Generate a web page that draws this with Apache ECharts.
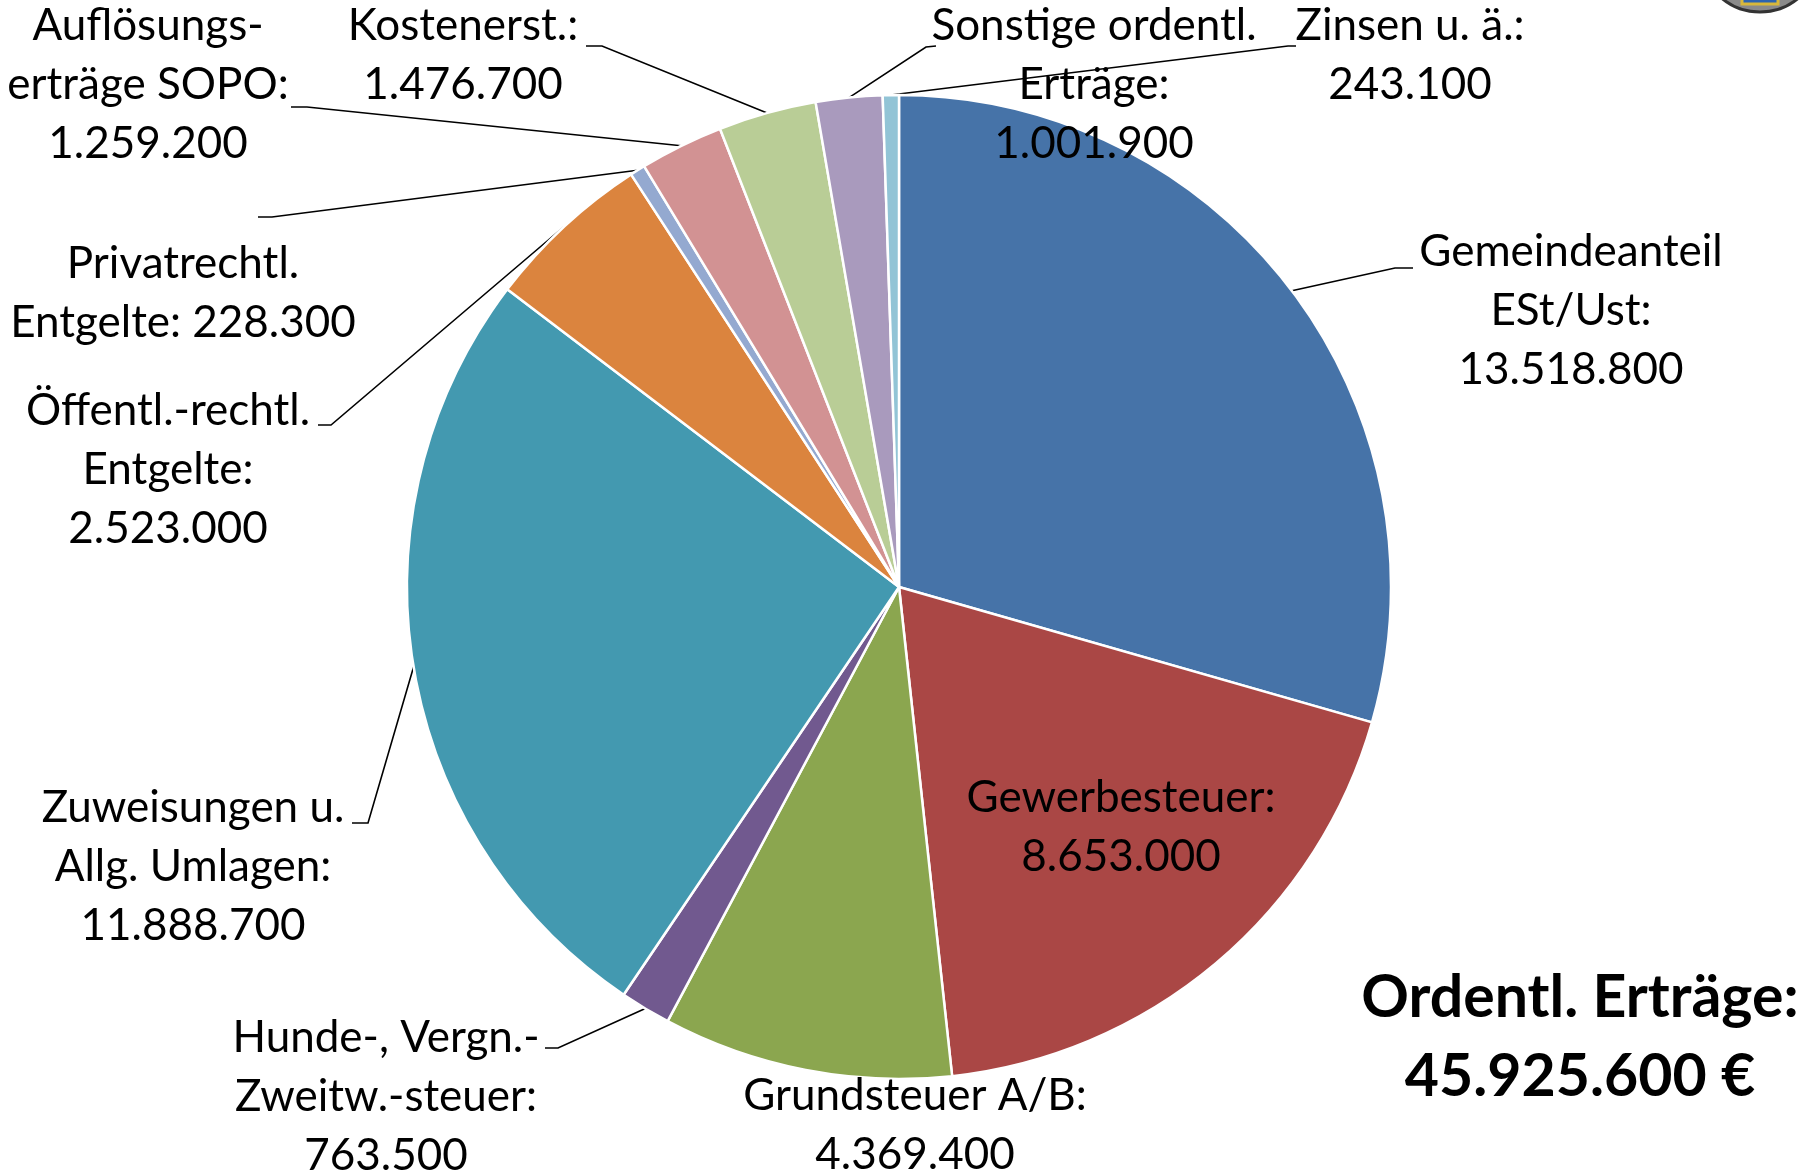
<!DOCTYPE html>
<html>
<head>
<meta charset="utf-8">
<script src="https://cdn.jsdelivr.net/npm/echarts@6/dist/echarts.min.js"></script>
<style>
  html, body { margin: 0; padding: 0; background: #fff; }
  #chart { width: 1816px; height: 1172px; }
</style>
</head>
<body>
<div id="chart"></div>
<script>
// Ordentliche Erträge, clockwise from 12 o'clock
const categories = [
  'Gemeindeanteil\nESt/Ust:',
  'Gewerbesteuer:',
  'Grundsteuer A/B:',
  'Hunde-, Vergn.-\nZweitw.-steuer:',
  'Zuweisungen u.\nAllg. Umlagen:',
  'Öffentl.-rechtl.\nEntgelte:',
  'Privatrechtl.\nEntgelte:',
  'Auflösungs-\nerträge SOPO:',
  'Kostenerst.:',
  'Sonstige ordentl.\nErträge:',
  'Zinsen u. ä.:'
]
const values = [13518800, 8653000, 4369400, 763500, 11888700, 2523000, 228300, 1259200, 1476700, 1001900, 243100]
const totalLabel = ['Ordentl. Erträge:', '45.925.600 €']

const colors = ['#4673a8', '#aa4745', '#8ba64f', '#71598f', '#4399b0', '#db843e', '#94a9d0', '#d29293', '#b9cd96', '#a99abd', '#92c4d6']

// label anchor (centre of text block) and leader line elbow/end, page pixels
const labelPos = [
  {x: 1571, y: 311, line: [[1395, 268], [1413, 268]]},
  {x: 1121, y: 827},
  {x: 915, y: 1125},
  {x: 386, y: 1097, line: [[558, 1048], [545, 1048]]},
  {x: 193, y: 867, line: [[368, 823], [352, 823]]},
  {x: 168, y: 470, line: [[331, 425], [318, 425]]},
  {x: 183, y: 293, line: [[272, 217], [258, 217]], inline: true},
  {x: 148, y: 85, line: [[307, 107], [291, 107]]},
  {x: 463, y: 55, line: [[602, 46], [586, 46]]},
  {x: 1094, y: 85, line: [[926, 47], [936, 46]]},
  {x: 1410, y: 55, line: [[1288, 46], [1296, 46]]}
]

function fmt(v) {
  return String(v).replace(/\B(?=(\d{3})+(?!\d))/g, '.')
}

const seriesData = categories.map((name, i) => ({
  name: name,
  value: values[i],
  itemStyle: {color: colors[i]},
  labelLine: {show: !!labelPos[i].line}
}))

const chart = echarts.init(document.getElementById('chart'))
chart.setOption({
  animation: false,
  backgroundColor: '#fff',
  textStyle: {fontFamily: 'Lato'},
  graphic: [
    {
      type: 'circle',
      shape: {cx: 1760, cy: -48, r: 60},
      style: {fill: '#8a8a8a', stroke: '#333', lineWidth: 3}
    },
    {
      type: 'rect',
      shape: {x: 1742, y: -20, width: 36, height: 24},
      style: {fill: '#2c64b0', stroke: '#d8b83a', lineWidth: 3}
    },
    {
      type: 'text',
      x: 1580,
      y: 998,
      style: {
        text: totalLabel[0],
        font: 'bold 59px Lato',
        fill: '#000',
        align: 'center',
        verticalAlign: 'middle'
      }
    },
    {
      type: 'text',
      x: 1580,
      y: 1077,
      style: {
        text: totalLabel[1],
        font: 'bold 59px Lato',
        fill: '#000',
        align: 'center',
        verticalAlign: 'middle'
      }
    }
  ],
  series: [
    {
      type: 'pie',
      center: [899, 587],
      radius: 492,
      startAngle: 90,
      clockwise: true,
      avoidLabelOverlap: false,
      data: seriesData,
      itemStyle: {
        borderColor: '#fff',
        borderWidth: 2.5
      },
      label: {
        show: true,
        formatter: p => p.name + (labelPos[p.dataIndex].inline ? ' ' : '\n') + fmt(p.value),
        fontFamily: 'Lato',
        fontSize: 44,
        lineHeight: 59,
        color: '#000',
        align: 'center'
      },
      labelLine: {
        length: 20,
        length2: 20,
        lineStyle: {color: '#000', width: 1.6}
      },
      labelLayout: function (params) {
        const pos = labelPos[params.dataIndex]
        const res = {
          x: pos.x,
          y: pos.y,
          align: 'center',
          verticalAlign: 'middle'
        }
        if (pos.line && params.labelLinePoints) {
          const start = params.labelLinePoints[0]
          res.labelLinePoints = [start, pos.line[0], pos.line[1]]
        }
        return res
      }
    }
  ]
})
</script>
</body>
</html>
